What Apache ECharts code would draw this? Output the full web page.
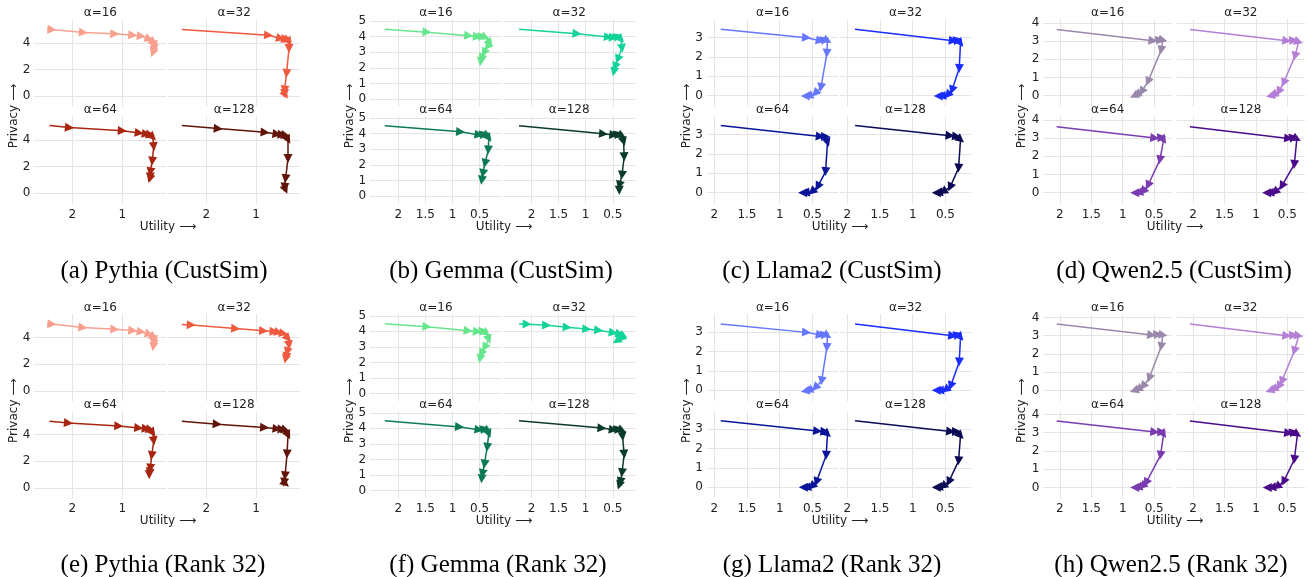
<!DOCTYPE html>
<html><head><meta charset="utf-8">
<script src="https://cdn.jsdelivr.net/npm/echarts@6/dist/echarts.min.js"></script>
<style>html,body{margin:0;padding:0;background:#fff}#c{width:1309px;height:577px}</style>
</head><body><div id="c"></div><script>
// ---------- labels ----------
const captions = ['(a) Pythia (CustSim)','(b) Gemma (CustSim)','(c) Llama2 (CustSim)','(d) Qwen2.5 (CustSim)',
                  '(e) Pythia (Rank 32)','(f) Gemma (Rank 32)','(g) Llama2 (Rank 32)','(h) Qwen2.5 (Rank 32)'];
const alphaLabels = ['α=16','α=32','α=64','α=128'];
const xAxisName = 'Utility ⟶';
const yAxisName = 'Privacy ⟶';
// ---------- tick values ----------
const pythiaXTicks = [2, 1];
const pythiaYTicks = [0, 2, 4];
const gemmaXTicks = [2, 1.5, 1, 0.5];
const gemmaYTicks = [0, 1, 2, 3, 4, 5];
const llamaXTicks = [2, 1.5, 1, 0.5];
const llamaYTicks = [0, 1, 2, 3];
const qwenXTicks = [2, 1.5, 1, 0.5];
const qwenYTicks = [0, 1, 2, 3, 4];
// ---------- colours ----------
const pythiaColors = ['#f7a08e', '#ef5a3f', '#a8260f', '#601508'];
const gemmaColors  = ['#66e68c', '#14d39a', '#0c7a57', '#0a3b2a'];
const llamaColors  = ['#6677ff', '#1a2cff', '#0a1499', '#0a0a55'];
const qwenColors   = ['#9a88ac', '#b47fd6', '#7a3bb0', '#4a0a8a'];
// ---------- data: [utility, privacy] trajectories ----------
// (a) Pythia CustSim
const pythiaCust16  = [[2.51,5.02],[2.41,4.99],[1.78,4.77],[1.15,4.67],[0.79,4.57],[0.62,4.50],[0.46,4.27],[0.37,4.07],[0.36,3.83],[0.37,3.6],[0.38,3.35],[0.39,3.25]];
const pythiaCust32  = [[2.49,4.99],[0.75,4.57],[0.51,4.32],[0.41,4.27],[0.36,4.2],[0.34,4.07],[0.34,3.58],[0.39,1.71],[0.43,0.47],[0.43,0.22],[0.41,0.1]];
const pythiaCust64  = [[2.46,5.06],[2.06,4.91],[1.0,4.68],[0.66,4.51],[0.52,4.43],[0.44,4.38],[0.39,4.2],[0.37,3.49],[0.4,2.4],[0.44,1.6],[0.44,1.22],[0.45,1.09]];
const pythiaCust128 = [[2.49,5.06],[1.76,4.84],[0.82,4.56],[0.58,4.41],[0.48,4.38],[0.41,4.33],[0.36,4.0],[0.36,2.61],[0.41,1.09],[0.43,0.46],[0.41,0.28]];
// (b) Gemma CustSim
const gemmaCust16  = [[2.25,4.47],[1.47,4.29],[0.70,4.06],[0.54,4.0],[0.45,4.04],[0.39,3.95],[0.31,3.57],[0.36,3.35],[0.42,2.97],[0.47,2.61],[0.48,2.39]];
const gemmaCust32  = [[2.23,4.47],[1.16,4.19],[0.58,3.97],[0.49,3.95],[0.41,4.04],[0.35,3.82],[0.33,3.25],[0.41,2.54],[0.46,2.07],[0.48,1.75]];
const gemmaCust64  = [[2.25,4.5],[0.85,4.12],[0.51,3.92],[0.42,3.99],[0.36,3.86],[0.33,3.71],[0.34,2.95],[0.40,2.09],[0.44,1.44],[0.46,1.01]];
const gemmaCust128 = [[2.23,4.5],[0.67,3.99],[0.48,3.92],[0.40,3.99],[0.33,3.86],[0.30,3.49],[0.29,2.52],[0.33,1.34],[0.38,0.69],[0.38,0.37]];
// (c) Llama2 CustSim
const llamaCust16  = [[1.90,3.43],[0.59,3.0],[0.38,2.84],[0.31,2.91],[0.27,2.84],[0.28,2.19],[0.37,0.43],[0.46,0.12],[0.56,-0.02],[0.61,-0.02]];
const llamaCust32  = [[1.88,3.43],[0.38,2.84],[0.31,2.88],[0.27,2.71],[0.29,1.41],[0.40,0.29],[0.47,0.03],[0.56,-0.02],[0.61,-0.02]];
const llamaCust64  = [[1.90,3.47],[0.38,2.91],[0.30,2.91],[0.27,2.60],[0.30,1.09],[0.42,0.31],[0.51,0.05],[0.61,0.0],[0.65,0.0]];
const llamaCust128 = [[1.88,3.47],[0.43,2.95],[0.33,2.91],[0.27,2.74],[0.30,1.27],[0.43,0.28],[0.54,0.05],[0.61,0],[0.64,0]];
// (d) Qwen2.5 CustSim
const qwenCust16  = [[2.05,3.63],[0.52,3.01],[0.41,3.09],[0.36,3.05],[0.39,2.5],[0.60,0.77],[0.70,0.22],[0.78,0.07],[0.82,0]];
const qwenCust32  = [[2.05,3.63],[0.51,3.01],[0.40,3.05],[0.32,2.96],[0.38,2.17],[0.56,0.71],[0.64,0.22],[0.72,0.04],[0.77,0]];
const qwenCust64  = [[2.05,3.62],[0.49,3.0],[0.38,3.04],[0.35,2.89],[0.41,1.8],[0.60,0.4],[0.68,0.07],[0.75,0],[0.81,0]];
const qwenCust128 = [[2.05,3.62],[0.48,2.98],[0.40,3.04],[0.35,2.95],[0.39,1.55],[0.59,0.36],[0.70,0.04],[0.78,0],[0.83,0]];
// (e) Pythia Rank 32
const pythiaRank16  = [[2.51,5.03],[2.41,5.0],[1.79,4.75],[1.15,4.62],[0.79,4.52],[0.62,4.42],[0.46,4.25],[0.37,4.05],[0.36,3.8],[0.37,3.55],[0.38,3.3]];
const pythiaRank32  = [[2.49,4.97],[2.30,4.94],[1.41,4.67],[0.85,4.5],[0.64,4.45],[0.55,4.37],[0.45,4.3],[0.36,3.93],[0.34,3.43],[0.38,2.93],[0.40,2.56],[0.41,2.38]];
const pythiaRank64  = [[2.46,4.99],[2.08,4.86],[1.07,4.64],[0.67,4.49],[0.52,4.44],[0.44,4.37],[0.39,4.12],[0.37,3.53],[0.41,2.42],[0.44,1.48],[0.46,1.16],[0.46,0.99]];
const pythiaRank128 = [[2.49,4.99],[1.78,4.77],[0.83,4.52],[0.58,4.42],[0.48,4.4],[0.41,4.32],[0.36,3.95],[0.38,2.54],[0.42,0.91],[0.44,0.42],[0.41,0.32]];
// (f) Gemma Rank 32
const gemmaRank16  = [[2.25,4.48],[1.47,4.3],[0.71,4.04],[0.54,3.98],[0.43,4.04],[0.37,3.87],[0.33,3.48],[0.41,2.96],[0.47,2.57],[0.49,2.24]];
const gemmaRank32  = [[2.23,4.48],[2.08,4.46],[1.72,4.39],[1.34,4.26],[0.98,4.15],[0.76,4.07],[0.49,3.91],[0.37,3.83],[0.30,3.7],[0.36,3.54],[0.43,3.39]];
const gemmaRank64  = [[2.25,4.48],[0.87,4.09],[0.51,3.91],[0.41,3.98],[0.35,3.83],[0.33,3.65],[0.36,2.78],[0.41,1.7],[0.45,1.09],[0.46,0.76]];
const gemmaRank128 = [[2.23,4.48],[0.70,4.02],[0.49,3.91],[0.40,3.98],[0.33,3.87],[0.32,3.48],[0.29,2.35],[0.33,1.15],[0.36,0.57],[0.38,0.35]];
// (g) Llama2 Rank 32
const llamaRank16  = [[1.90,3.43],[0.59,3.0],[0.38,2.86],[0.31,2.91],[0.27,2.82],[0.28,2.22],[0.36,0.49],[0.46,0.14],[0.56,0],[0.61,-0.03]];
const llamaRank32  = [[1.88,3.43],[0.39,2.82],[0.31,2.89],[0.27,2.74],[0.29,1.47],[0.42,0.23],[0.5,0.03],[0.59,0],[0.64,0]];
const llamaRank64  = [[1.90,3.45],[0.42,2.91],[0.31,2.88],[0.27,2.76],[0.29,1.66],[0.44,0.28],[0.51,0.05],[0.59,0],[0.64,0]];
const llamaRank128 = [[1.88,3.45],[0.42,2.89],[0.33,2.89],[0.27,2.67],[0.30,1.37],[0.45,0.28],[0.54,0.05],[0.61,0],[0.64,0]];
// (h) Qwen2.5 Rank 32
const qwenRank16  = [[2.05,3.64],[0.54,3.04],[0.44,3.09],[0.36,3.04],[0.39,2.4],[0.58,0.67],[0.68,0.22],[0.76,0.07],[0.82,0]];
const qwenRank32  = [[2.05,3.64],[0.51,3.0],[0.40,3.05],[0.32,3.0],[0.39,2.16],[0.59,0.49],[0.64,0.22],[0.72,0.07],[0.78,0]];
const qwenRank64  = [[2.05,3.64],[0.49,3.04],[0.38,3.05],[0.35,2.91],[0.40,1.76],[0.63,0.25],[0.69,0.07],[0.76,0],[0.81,0]];
const qwenRank128 = [[2.05,3.64],[0.48,2.98],[0.40,3.04],[0.34,2.91],[0.39,1.53],[0.56,0.31],[0.67,0.04],[0.75,0],[0.82,0]];

// ---------- layout (pixels) ----------
const ROW_OFFSET = 294.7;
const T1 = 19.5, T2 = 116.5, H = 87;
const panels = [
  {cap: captions[0], data: [pythiaCust16, pythiaCust32, pythiaCust64, pythiaCust128], colors: pythiaColors, xt: pythiaXTicks, yt: pythiaYTicks, xr: [0.12, 2.76], yr: [-0.76, 5.74], L: [34.5, 168.3], W: 131.7, row: 0, privX: 14, utilX: 168, capX: 164},
  {cap: captions[1], data: [gemmaCust16, gemmaCust32, gemmaCust64, gemmaCust128], colors: gemmaColors, xt: gemmaXTicks, yt: gemmaYTicks, xr: [0.09, 2.52], yr: [-0.48, 5.1], L: [370.1, 503.3], W: 131.7, row: 0, privX: 350, utilX: 504, capX: 501},
  {cap: captions[2], data: [llamaCust16, llamaCust32, llamaCust64, llamaCust128], colors: llamaColors, xt: llamaXTicks, yt: llamaYTicks, xr: [0.11, 2.11], yr: [-0.56, 3.94], L: [707, 840], W: 131, row: 0, privX: 686.7, utilX: 840, capX: 832},
  {cap: captions[3], data: [qwenCust16, qwenCust32, qwenCust64, qwenCust128], colors: qwenColors, xt: qwenXTicks, yt: qwenYTicks, xr: [0.22, 2.26], yr: [-0.59, 4.18], L: [1043.5, 1176.7], W: 128.3, row: 0, privX: 1021.7, utilX: 1175, capX: 1174},
  {cap: captions[4], data: [pythiaRank16, pythiaRank32, pythiaRank64, pythiaRank128], colors: pythiaColors, xt: pythiaXTicks, yt: pythiaYTicks, xr: [0.12, 2.76], yr: [-0.76, 5.74], L: [34.5, 168.3], W: 131.7, row: 1, privX: 14, utilX: 168, capX: 163},
  {cap: captions[5], data: [gemmaRank16, gemmaRank32, gemmaRank64, gemmaRank128], colors: gemmaColors, xt: gemmaXTicks, yt: gemmaYTicks, xr: [0.09, 2.52], yr: [-0.48, 5.1], L: [370.1, 503.3], W: 131.7, row: 1, privX: 350, utilX: 504, capX: 498},
  {cap: captions[6], data: [llamaRank16, llamaRank32, llamaRank64, llamaRank128], colors: llamaColors, xt: llamaXTicks, yt: llamaYTicks, xr: [0.11, 2.11], yr: [-0.56, 3.94], L: [707, 840], W: 131, row: 1, privX: 686.7, utilX: 840, capX: 832},
  {cap: captions[7], data: [qwenRank16, qwenRank32, qwenRank64, qwenRank128], colors: qwenColors, xt: qwenXTicks, yt: qwenYTicks, xr: [0.22, 2.26], yr: [-0.59, 4.18], L: [1043.5, 1176.7], W: 128.3, row: 1, privX: 1021.7, utilX: 1175, capX: 1171}
];

const FONT = 'DejaVu Sans';
const grids = [], xAxes = [], yAxes = [], series = [], graphics = [];
let gi = 0;
panels.forEach(p => {
  const off = p.row * ROW_OFFSET;
  for (let k = 0; k < 4; k++) {
    const col = k % 2, r = Math.floor(k / 2);
    const left = p.L[col], top = off + (r === 0 ? T1 : T2);
    grids.push({left: left, top: top, width: p.W, height: H, containLabel: false, outerBoundsMode: 'none'});
    xAxes.push({
      type: 'value', gridIndex: gi, inverse: true, min: p.xr[0], max: p.xr[1],
      axisLine: {show: false, onZero: false}, axisTick: {show: false, customValues: p.xt},
      axisLabel: {show: r === 1, customValues: p.xt, margin: 5, fontSize: 12, fontFamily: FONT, color: '#222'},
      splitLine: {show: true, lineStyle: {color: '#e4e4e4', width: 1}}
    });
    yAxes.push({
      type: 'value', gridIndex: gi, min: p.yr[0], max: p.yr[1],
      axisLine: {show: false, onZero: false}, axisTick: {show: false, customValues: p.yt},
      axisLabel: {show: col === 0, customValues: p.yt, margin: 4, fontSize: 12, fontFamily: FONT, color: '#222'},
      splitLine: {show: true, lineStyle: {color: '#e4e4e4', width: 1}}
    });
    const pts = p.data[k];
    const segs = [];
    for (let i = 0; i + 1 < pts.length; i++) segs.push({coords: [pts[i], pts[i + 1]]});
    series.push({
      type: 'lines', coordinateSystem: 'cartesian2d', xAxisIndex: gi, yAxisIndex: gi,
      polyline: false, silent: true, animation: false,
      symbol: ['none', 'triangle'], symbolSize: 9,
      lineStyle: {color: p.colors[k], width: 1.5, opacity: 1, curveness: 0},
      data: segs, z: 3
    });
    graphics.push({type: 'text', x: left + p.W / 2, y: top - 6.5, silent: true,
      style: {text: alphaLabels[k], fontSize: 12, fontFamily: FONT, fill: '#222', align: 'center', verticalAlign: 'middle'}});
    gi++;
  }
  graphics.push({type: 'text', x: p.privX, y: off + 116, rotation: Math.PI / 2, silent: true,
    style: {text: yAxisName, fontSize: 12, fontFamily: FONT, fill: '#222', align: 'center', verticalAlign: 'middle'}});
  graphics.push({type: 'text', x: p.utilX, y: off + 226.5, silent: true,
    style: {text: xAxisName, fontSize: 12, fontFamily: FONT, fill: '#222', align: 'center', verticalAlign: 'middle'}});
  graphics.push({type: 'text', x: p.capX, y: off + 271, silent: true,
    style: {text: p.cap, fontSize: 25, fontFamily: 'Liberation Serif', fill: '#000', align: 'center', verticalAlign: 'middle'}});
});

const chart = echarts.init(document.getElementById('c'), null, {renderer: 'canvas'});
chart.setOption({
  animation: false,
  backgroundColor: '#fff',
  grid: grids, xAxis: xAxes, yAxis: yAxes, series: series, graphic: graphics
});
</script></body></html>
